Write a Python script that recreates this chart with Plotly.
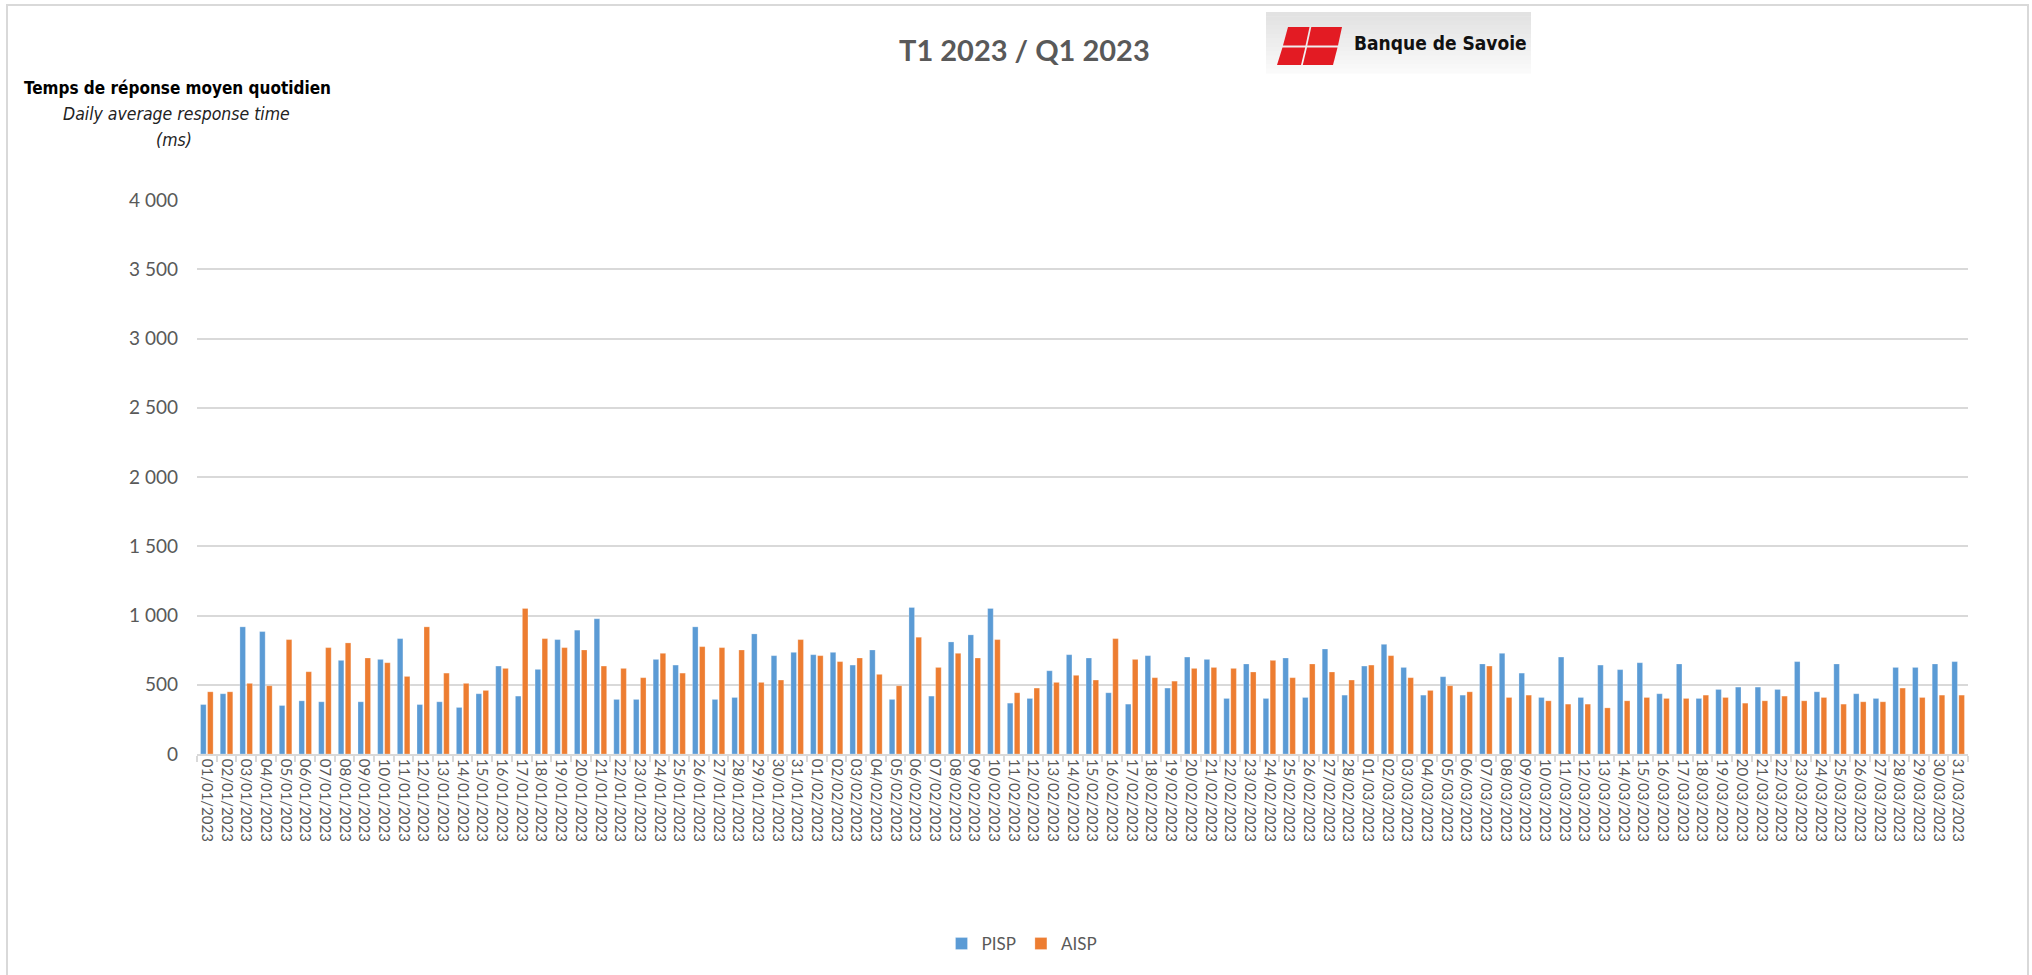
import pandas as pd
import plotly.graph_objects as go

# ---------------- data ----------------
dates = [d.strftime("%d/%m/%Y") for d in pd.date_range("2023-01-01", "2023-03-31", freq="D")]

pisp = [357, 435, 918, 884, 350, 384, 377, 676, 377, 683,
        833, 357, 377, 336, 435, 635, 418, 611, 826, 894,
        976, 394, 394, 683, 642, 918, 394, 408, 867, 710,
        734,
        717, 734, 642, 751, 394, 1058, 418, 809, 860, 1051,
        367, 401, 601, 717, 693, 442, 360, 710, 476, 700,
        683, 401, 650, 401, 693, 408, 758, 425,
        635, 792, 625, 425, 558, 425, 650, 727, 584, 408,
        700, 408, 642, 609, 659, 435, 650, 401, 466, 483,
        483, 466, 667, 449, 650, 435, 401, 625, 625, 650,
        667]

aisp = [449, 449, 510, 493, 826, 594, 768, 802, 693, 659,
        560, 918, 584, 510, 459, 618, 1051, 833, 768, 751,
        635, 618, 551, 727, 584, 775, 768, 751, 517, 534,
        826,
        710, 667, 693, 575, 493, 843, 625, 727, 693, 826,
        442, 476, 517, 568, 534, 833, 683, 551, 526, 618,
        625, 618, 592, 676, 551, 650, 592, 534,
        642, 710, 551, 459, 493, 449, 635, 408, 425, 384,
        360, 360, 333, 384, 408, 401, 401, 425, 408, 367,
        384, 418, 384, 408, 360, 377, 377, 476, 408, 425,
        425]

series_names = ["PISP", "AISP"]
series_colors = ["#5B9BD5", "#ED7D31"]
y_tick_vals = [0, 500, 1000, 1500, 2000, 2500, 3000, 3500, 4000]
y_tick_text = ["0", "500", "1 000", "1 500", "2 000", "2 500", "3 000", "3 500", "4 000"]

title_text = "T1 2023 / Q1 2023"
ytitle_fr = "Temps de réponse moyen quotidien"
ytitle_en = "Daily average response time"
ytitle_unit = "(ms)"
logo_text = "Banque de Savoie"

# ---------------- layout geometry (pixels) ----------------
W, H = 2032, 975
L, R, T, B = 197, 1968, 200, 754


def px(x):
    return (x - L) / (R - L)


def py(y):
    return (B - y) / (B - T)


fig = go.Figure()
for name, vals, col in zip(series_names, [pisp, aisp], series_colors):
    fig.add_trace(go.Bar(
        x=dates, y=vals, name=name,
        marker=dict(color=col, line=dict(color="rgba(255,255,255,0.5)", width=0.5)),
    ))

GRID = "#D9D9D9"
TXT = "#595959"
NARROW = "Liberation Sans Narrow, Arial Narrow, DejaVu Sans Condensed, sans-serif"

fig.update_layout(
    width=W, height=H,
    margin=dict(l=L, r=W - R, t=T, b=H - B, autoexpand=False),
    paper_bgcolor="white", plot_bgcolor="white",
    barmode="group", bargap=0.29, bargroupgap=0.2,
    font=dict(family="Lato, Open Sans, sans-serif", color=TXT),
    showlegend=True,
    legend=dict(orientation="h", x=px(1022), xanchor="center", y=py(944), yanchor="middle",
                font=dict(size=17, color=TXT), traceorder="normal",
                itemwidth=30),
    xaxis=dict(
        type="category", tickson="boundaries", ticks="outside", ticklen=6,
        tickcolor=GRID, tickwidth=1.5, showline=True, linecolor=GRID, linewidth=1.5,
        showgrid=False, tickangle=90, tickfont=dict(size=15, color=TXT),
    ),
    yaxis=dict(
        range=[0, 4000], tickvals=y_tick_vals, ticktext=y_tick_text,
        showgrid=True, gridcolor=GRID, gridwidth=1.5, zeroline=False,
        showline=False, tickfont=dict(size=19, color=TXT), ticklabelstandoff=18,
    ),
)

shapes = []
# outer chart border
shapes.append(dict(type="rect", xref="paper", yref="paper",
                   x0=px(7), x1=px(2028), y0=py(990), y1=py(5),
                   line=dict(color=GRID, width=2), fillcolor="rgba(0,0,0,0)", layer="below"))
# logo background gradient (strips)
n = 14
y_top, y_bot = 12, 73
for i in range(n):
    t = i / (n - 1)
    g = int(226 + (250 - 226) * t)
    ya = y_top + (y_bot - y_top) * i / n
    yb = y_top + (y_bot - y_top) * (i + 1) / n
    shapes.append(dict(type="rect", xref="paper", yref="paper",
                       x0=px(1266), x1=px(1531), y0=py(yb + 0.5), y1=py(ya),
                       line=dict(width=0), fillcolor=f"rgb({g},{g},{g})", layer="above"))

# logo red blocks (slanted parallelograms)
RED = "#E31B23"
blocks = [
    [(1288, 27), (1309.5, 27), (1305.5, 45.5), (1283, 45.5)],
    [(1311.3, 27), (1342, 27), (1338, 45.5), (1307.3, 45.5)],
    [(1282.5, 47.5), (1305.2, 47.5), (1301.0, 65), (1277, 65)],
    [(1307.0, 47.5), (1337.5, 47.5), (1333, 65), (1302.8, 65)],
]
for poly in blocks:
    path = "M " + " L ".join(f"{px(x):.5f},{py(y):.5f}" for x, y in poly) + " Z"
    shapes.append(dict(type="path", xref="paper", yref="paper", path=path,
                       line=dict(width=0), fillcolor=RED, layer="above"))
fig.update_layout(shapes=shapes)

annotations = [
    dict(text=f"<b>{title_text}</b>", x=px(1024), y=py(50), xref="paper", yref="paper",
         xanchor="center", yanchor="middle", showarrow=False,
         font=dict(family="Lato, sans-serif", size=29, color=TXT)),
    dict(text=f"<b>{logo_text}</b>", x=px(1352), y=py(43), xref="paper", yref="paper",
         xanchor="left", yanchor="middle", showarrow=False,
         font=dict(family=NARROW, size=19, color="#111111")),
    dict(text=f"<b>{ytitle_fr}</b>", x=px(177), y=py(88), xref="paper", yref="paper",
         xanchor="center", yanchor="middle", showarrow=False,
         font=dict(family=NARROW, size=17, color="#000000")),
    dict(text=f"<i>{ytitle_en}</i>", x=px(176), y=py(114), xref="paper", yref="paper",
         xanchor="center", yanchor="middle", showarrow=False,
         font=dict(family=NARROW, size=17.5, color="#222222")),
    dict(text=f"<i>{ytitle_unit}</i>", x=px(174), y=py(140), xref="paper", yref="paper",
         xanchor="center", yanchor="middle", showarrow=False,
         font=dict(family=NARROW, size=17.5, color="#222222")),
]
fig.update_layout(annotations=annotations)

fig.write_html("out.html", config={"displayModeBar": False},
               post_script="document.body.style.margin='0';")
